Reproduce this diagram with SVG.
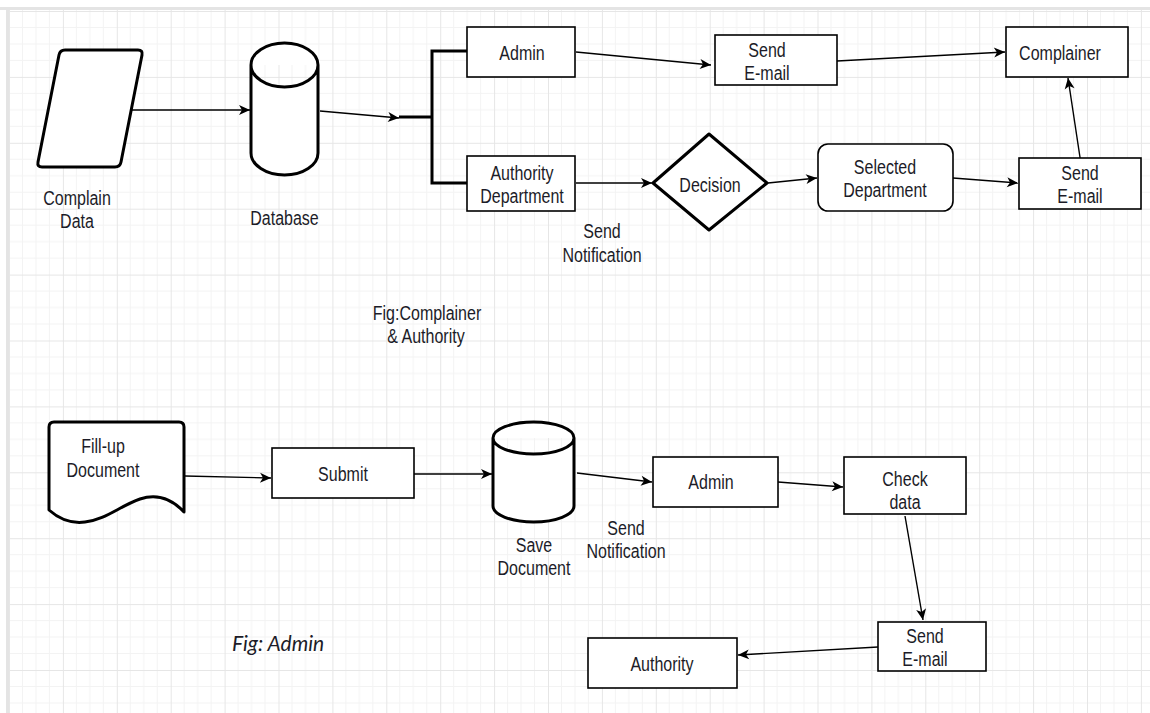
<svg xmlns="http://www.w3.org/2000/svg" width="1150" height="713" viewBox="0 0 1150 713">
<defs>
<pattern id="grid" x="9" y="11" width="53.9" height="65.9" patternUnits="userSpaceOnUse">
<path d="M13.5,0V65.9M26.95,0V65.9M40.4,0V65.9M0,16.5H53.9M0,32.95H53.9M0,49.4H53.9" stroke="#f3f3f3" stroke-width="1" fill="none"/>
<path d="M0.5,0V65.9M0,0.5H53.9" stroke="#e6e6e6" stroke-width="1" fill="none"/>
</pattern>
<marker id="arr" viewBox="0 0 12 10" markerUnits="userSpaceOnUse" markerWidth="12" markerHeight="10" refX="11" refY="5" orient="auto" overflow="visible">
<path d="M0,0 L11,5 L0,10 L3,5 Z" fill="#000"/>
</marker>
<style>
.box{fill:#fff;stroke:#000;stroke-width:1.6}
.thick{fill:#fff;stroke:#000;stroke-width:3;stroke-linejoin:round}
.t{font-family:"Liberation Sans",Arial,sans-serif;font-size:20px;fill:#1c1c28;text-anchor:middle}
.c{fill:none;stroke:#000;stroke-width:1.4;marker-end:url(#arr)}
.fig{font-family:Lato,"Open Sans",sans-serif;font-style:italic;font-size:21px;fill:#1c1c28}
</style>
</defs>
<rect x="0" y="0" width="1150" height="713" fill="#fff"/>
<rect x="9" y="10" width="1141" height="703" fill="url(#grid)"/>
<rect x="0" y="7" width="1150" height="3" fill="#e4e4e4"/>
<rect x="6" y="7" width="3" height="706" fill="#e4e4e4"/>

<g id="connectors">
<path class="c" d="M132,110 L250,110"/>
<path class="c" d="M320,111 L399,118"/>
<path d="M399,117 H432 M432,51 V183 M430.5,51 H467 M430.5,183 H467" fill="none" stroke="#000" stroke-width="3"/>
<path class="c" d="M576,52 L711,65"/>
<path class="c" d="M576,183 L652,183"/>
<path class="c" d="M768,183 L817,178"/>
<path class="c" d="M953,178 L1018,183"/>
<path class="c" d="M837,61 L1005,52"/>
<path class="c" d="M1081,164 L1068,78"/>
<path class="c" d="M185,476 L271,478"/>
<path class="c" d="M414,474 L492,474"/>
<path class="c" d="M577,473 L652,482"/>
<path class="c" d="M778,482 L843,487"/>
<path class="c" d="M905,516 L923,620"/>
<path class="c" d="M878,647 L738,655"/>
</g>

<g id="complain-data">
<path class="thick" d="M65,50 L138,50 Q143,50 142,55 L121,162 Q120,167 115,167 L42,167 Q37,167 38,162 L59,55 Q60,50 65,50 Z"/>
<text class="t" transform="translate(77,205) scale(0.8,1)">Complain</text>
<text class="t" transform="translate(77,228) scale(0.8,1)">Data</text>
</g>

<g id="database">
<path class="thick" d="M251,65 A33.5,22 0 0,1 318,65 L318,153 A33.5,22 0 0,1 251,153 Z M251,65 A33.5,22 0 0,0 318,65"/>
<text class="t" transform="translate(284.5,225) scale(0.8,1)">Database</text>
</g>

<g id="admin-top">
<rect class="box" x="467" y="27" width="108" height="50"/>
<text class="t" transform="translate(522,60) scale(0.8,1)">Admin</text>
</g>

<g id="authority-department">
<rect class="box" x="467" y="156" width="108" height="55"/>
<text class="t" transform="translate(522,180) scale(0.8,1)">Authority</text>
<text class="t" transform="translate(522,203) scale(0.8,1)">Department</text>
</g>

<g id="send-notification-top">
<text class="t" transform="translate(602,238) scale(0.8,1)">Send</text>
<text class="t" transform="translate(602,262) scale(0.8,1)">Notification</text>
</g>

<g id="send-email-1">
<rect class="box" x="715" y="35" width="122" height="50"/>
<text class="t" transform="translate(767,57) scale(0.8,1)">Send</text>
<text class="t" transform="translate(767,80) scale(0.8,1)">E-mail</text>
</g>

<g id="decision">
<path class="thick" d="M653,183 L709,134 L767,183 L709,230 Z"/>
<text class="t" transform="translate(710,192) scale(0.8,1)">Decision</text>
</g>

<g id="selected-department">
<rect class="box" x="818" y="144" width="135" height="67" rx="10"/>
<text class="t" transform="translate(885,174) scale(0.8,1)">Selected</text>
<text class="t" transform="translate(885,197) scale(0.8,1)">Department</text>
</g>

<g id="send-email-2">
<rect class="box" x="1019" y="158" width="122" height="51"/>
<text class="t" transform="translate(1080,180) scale(0.8,1)">Send</text>
<text class="t" transform="translate(1080,203) scale(0.8,1)">E-mail</text>
</g>

<g id="complainer">
<rect class="box" x="1006" y="27" width="122" height="50"/>
<text class="t" transform="translate(1060,60) scale(0.8,1)">Complainer</text>
</g>

<g id="fig-complainer">
<text class="t" transform="translate(427,320) scale(0.8,1)">Fig:Complainer</text>
<text class="t" transform="translate(426,343) scale(0.8,1)">&amp; Authority</text>
</g>

<g id="fill-up-document">
<path class="thick" d="M49,427 Q49,422 54,422 L179,422 Q184,422 184,427 L184,512 C170,497 155,494 140,499 C120,506 105,520 85,522 C70,524 58,518 49,510 Z"/>
<text class="t" transform="translate(103,453) scale(0.8,1)">Fill-up</text>
<text class="t" transform="translate(103,477) scale(0.8,1)">Document</text>
</g>

<g id="submit">
<rect class="box" x="272" y="448" width="142" height="50"/>
<text class="t" transform="translate(343,481) scale(0.8,1)">Submit</text>
</g>

<g id="save-document">
<path class="thick" d="M493,438 A40.5,16 0 0,1 574,438 L574,506 A40.5,16 0 0,1 493,506 Z M493,438 A40.5,16 0 0,0 574,438"/>
<text class="t" transform="translate(534,552) scale(0.8,1)">Save</text>
<text class="t" transform="translate(534,575) scale(0.8,1)">Document</text>
</g>

<g id="send-notification-bottom">
<text class="t" transform="translate(626,535) scale(0.8,1)">Send</text>
<text class="t" transform="translate(626,558) scale(0.8,1)">Notification</text>
</g>

<g id="admin-bottom">
<rect class="box" x="653" y="457" width="125" height="50"/>
<text class="t" transform="translate(711,489) scale(0.8,1)">Admin</text>
</g>

<g id="check-data">
<rect class="box" x="844" y="457" width="122" height="57"/>
<text class="t" transform="translate(905,486) scale(0.8,1)">Check</text>
<text class="t" transform="translate(905,509) scale(0.8,1)">data</text>
</g>

<g id="send-email-3">
<rect class="box" x="878" y="622" width="108" height="49"/>
<text class="t" transform="translate(925,643) scale(0.8,1)">Send</text>
<text class="t" transform="translate(925,666) scale(0.8,1)">E-mail</text>
</g>

<g id="authority">
<rect class="box" x="588" y="638" width="149" height="50"/>
<text class="t" transform="translate(662,671) scale(0.8,1)">Authority</text>
</g>

<g id="fig-admin">
<text class="fig" x="232" y="651">Fig: Admin</text>
</g>
</svg>
